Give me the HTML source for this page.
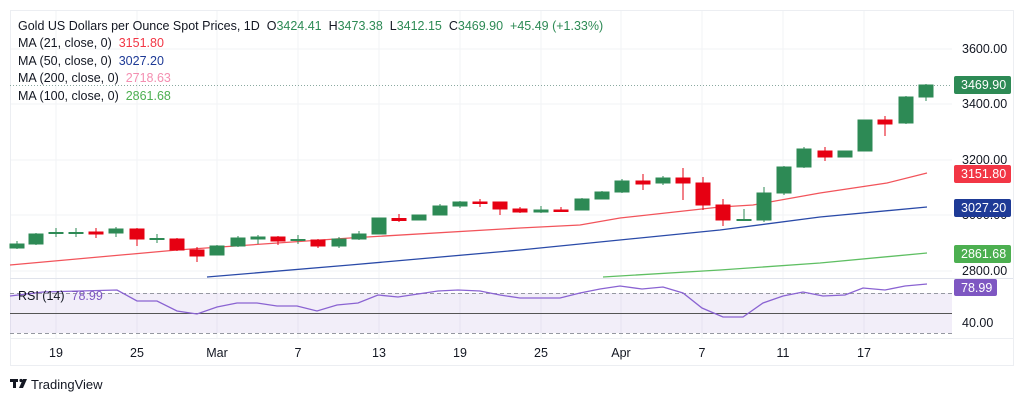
<!DOCTYPE html>
<html><head><meta charset="utf-8"><style>
html,body{margin:0;padding:0;background:#fff;}
svg{display:block;font-family:"Liberation Sans",sans-serif;}
text{white-space:pre;}
</style></head><body>
<svg width="1024" height="402" viewBox="0 0 1024 402" xmlns="http://www.w3.org/2000/svg">
<rect width="1024" height="402" fill="#fff"/>
<g stroke="#f2f3f6" stroke-width="1">
<line x1="10" y1="49" x2="952" y2="49"/><line x1="10" y1="104" x2="952" y2="104"/><line x1="10" y1="160" x2="952" y2="160"/><line x1="10" y1="215" x2="952" y2="215"/><line x1="10" y1="271" x2="952" y2="271"/>
<line x1="56" y1="10" x2="56" y2="338"/><line x1="137" y1="10" x2="137" y2="338"/><line x1="217" y1="10" x2="217" y2="338"/><line x1="298" y1="10" x2="298" y2="338"/><line x1="379" y1="10" x2="379" y2="338"/><line x1="460" y1="10" x2="460" y2="338"/><line x1="541" y1="10" x2="541" y2="338"/><line x1="621" y1="10" x2="621" y2="338"/><line x1="702" y1="10" x2="702" y2="338"/><line x1="783" y1="10" x2="783" y2="338"/><line x1="864" y1="10" x2="864" y2="338"/>
</g>
<rect x="10.5" y="10.5" width="1003" height="355" fill="none" stroke="#eceef2"/>
<line x1="10" y1="278.5" x2="1013" y2="278.5" stroke="#e0e3eb"/>
<line x1="10" y1="338.5" x2="1013" y2="338.5" stroke="#eceef2"/>
<rect x="10" y="293" width="942" height="40" fill="#7e57c2" fill-opacity="0.1"/>
<line x1="10" y1="293.5" x2="952" y2="293.5" stroke="#9598a1" stroke-dasharray="4,3"/>
<line x1="10" y1="333.5" x2="952" y2="333.5" stroke="#9598a1" stroke-dasharray="4,3"/>
<line x1="10" y1="313.5" x2="952" y2="313.5" stroke="#555" stroke-width="1"/>
<polyline fill="none" stroke="#8a63d2" stroke-width="1.3" points="10,296 43,292 117,290 137,301 157,301 177,311 197,314 217,307 237,303 257,303 277,306 297,306 317,311 337,305 358,303 378,295 398,297 418,294 438,291 458,290 480,291 500,295 520,298 560,298 580,293 600,289 620,286 642,289 663,287 683,293 702,308 723,317 743,317 763,303 783,296 803,292 823,296 845,295 863,288 885,290 905,286 927,284"/>
<line x1="10" y1="85.5" x2="952" y2="85.5" stroke="#8aa9a0" stroke-dasharray="1,2"/>
<polyline fill="none" stroke="#f2545b" stroke-width="1.3" points="10,265 177,250 350,238 520,228 580,225 620,218 720,207 753,205 820,193 887,183 927,173"/>
<polyline fill="none" stroke="#2a4aa8" stroke-width="1.3" points="207,277 350,265 520,250 720,230 820,217 927,207"/>
<polyline fill="none" stroke="#5fbf63" stroke-width="1.3" points="603,277 720,270 820,263 927,253"/>
<g stroke-width="1">
<g fill="#2d8a55" stroke="#2d8a55">
<line x1="17" y1="241" x2="17" y2="249"/><rect x="10" y="244" width="14" height="4"/>
<line x1="36" y1="233" x2="36" y2="245"/><rect x="29" y="234" width="14" height="10"/>
<line x1="56" y1="228" x2="56" y2="237"/><rect x="49" y="232.5" width="14" height="1"/>
<line x1="76" y1="228" x2="76" y2="237"/><rect x="69" y="232.5" width="14" height="1"/>
<line x1="116" y1="227" x2="116" y2="237"/><rect x="109" y="229" width="14" height="4"/>
<line x1="157" y1="234" x2="157" y2="243"/><rect x="150" y="238.5" width="14" height="1"/>
<line x1="217" y1="245" x2="217" y2="255"/><rect x="210" y="246" width="14" height="9"/>
<line x1="238" y1="236" x2="238" y2="247"/><rect x="231" y="238" width="14" height="8"/>
<line x1="258" y1="235" x2="258" y2="244"/><rect x="251" y="237" width="14" height="2"/>
<line x1="298" y1="235" x2="298" y2="244"/><rect x="291" y="239.5" width="14" height="1"/>
<line x1="339" y1="237" x2="339" y2="248"/><rect x="332" y="239" width="14" height="7"/>
<line x1="359" y1="231" x2="359" y2="240"/><rect x="352" y="234" width="14" height="5"/>
<rect x="372" y="218" width="14" height="16"/>
<rect x="412" y="215" width="14" height="5"/>
<line x1="440" y1="204" x2="440" y2="215"/><rect x="433" y="206" width="14" height="9"/>
<line x1="460" y1="201" x2="460" y2="208"/><rect x="453" y="202" width="14" height="4"/>
<line x1="541" y1="206" x2="541" y2="213"/><rect x="534" y="210" width="14" height="2"/>
<line x1="582" y1="198" x2="582" y2="210"/><rect x="575" y="199" width="14" height="11"/>
<line x1="602" y1="191" x2="602" y2="199"/><rect x="595" y="192" width="14" height="7"/>
<line x1="622" y1="179" x2="622" y2="193"/><rect x="615" y="181" width="14" height="11"/>
<line x1="663" y1="176" x2="663" y2="185"/><rect x="656" y="178" width="14" height="5"/>
<line x1="744" y1="209" x2="744" y2="221"/><rect x="737" y="219.5" width="14" height="1"/>
<line x1="764" y1="187" x2="764" y2="222"/><rect x="757" y="193" width="14" height="27"/>
<line x1="784" y1="166" x2="784" y2="195"/><rect x="777" y="167" width="14" height="26"/>
<line x1="804" y1="147" x2="804" y2="168"/><rect x="797" y="149" width="14" height="18"/>
<rect x="838" y="151" width="14" height="6"/>
<rect x="858" y="120" width="14" height="31"/>
<line x1="906" y1="96" x2="906" y2="124"/><rect x="899" y="97" width="14" height="26"/>
<line x1="926" y1="84" x2="926" y2="101"/><rect x="919" y="85" width="14" height="12"/>
</g>
<g fill="#e60012" stroke="#e60012">
<line x1="96" y1="228" x2="96" y2="238"/><rect x="89" y="232" width="14" height="2"/>
<line x1="137" y1="228" x2="137" y2="246"/><rect x="130" y="229" width="14" height="10"/>
<line x1="177" y1="238" x2="177" y2="251"/><rect x="170" y="239" width="14" height="11"/>
<line x1="197" y1="247" x2="197" y2="262"/><rect x="190" y="250" width="14" height="6"/>
<line x1="278" y1="236" x2="278" y2="245"/><rect x="271" y="237" width="14" height="4"/>
<line x1="318" y1="239" x2="318" y2="248"/><rect x="311" y="240" width="14" height="6"/>
<line x1="399" y1="214" x2="399" y2="222"/><rect x="392" y="218.5" width="14" height="2"/>
<line x1="480" y1="199" x2="480" y2="207"/><rect x="473" y="202" width="14" height="1.5"/>
<line x1="500" y1="202" x2="500" y2="215"/><rect x="493" y="202" width="14" height="7"/>
<line x1="520" y1="207" x2="520" y2="213"/><rect x="513" y="209" width="14" height="3"/>
<line x1="561" y1="207" x2="561" y2="212"/><rect x="554" y="210" width="14" height="1.5"/>
<line x1="643" y1="174" x2="643" y2="190"/><rect x="636" y="181" width="14" height="3"/>
<line x1="683" y1="168" x2="683" y2="200"/><rect x="676" y="178" width="14" height="5"/>
<line x1="703" y1="177" x2="703" y2="210"/><rect x="696" y="183" width="14" height="22"/>
<line x1="723" y1="199" x2="723" y2="226"/><rect x="716" y="205" width="14" height="15"/>
<line x1="825" y1="147" x2="825" y2="161"/><rect x="818" y="151" width="14" height="6"/>
<line x1="885" y1="116" x2="885" y2="136"/><rect x="878" y="120" width="14" height="4"/>
</g>
</g>
<g font-size="12.5" fill="#131722">
<text x="962" y="53">3600.00</text>
<text x="962" y="108">3400.00</text>
<text x="962" y="164">3200.00</text>
<text x="962" y="219">3000.00</text>
<text x="962" y="275">2800.00</text>
<text x="962" y="327">40.00</text>
</g>
<g font-size="12.5" fill="#fff">
<rect x="954" y="76" width="57" height="18" rx="2" fill="#2d8a55"/><text x="961" y="89">3469.90</text>
<rect x="954" y="165" width="57" height="18" rx="2" fill="#f23645"/><text x="961" y="178">3151.80</text>
<rect x="954" y="199" width="57" height="18" rx="2" fill="#1e3a96"/><text x="961" y="212">3027.20</text>
<rect x="954" y="245" width="57" height="18" rx="2" fill="#4caf50"/><text x="961" y="258">2861.68</text>
<rect x="954" y="279" width="43" height="17" rx="2" fill="#7e57c2"/><text x="961" y="292">78.99</text>
</g>
<g font-size="12.5" fill="#131722" text-anchor="middle">
<text x="56" y="357">19</text><text x="137" y="357">25</text><text x="217" y="357">Mar</text><text x="298" y="357">7</text><text x="379" y="357">13</text><text x="460" y="357">19</text><text x="541" y="357">25</text><text x="621" y="357">Apr</text><text x="702" y="357">7</text><text x="783" y="357">11</text><text x="864" y="357">17</text>
</g>
<g font-size="12.5" fill="#131722">
<text x="18" y="30">Gold US Dollars per Ounce Spot Prices, 1D  O<tspan fill="#2d8a55">3424.41</tspan>  H<tspan fill="#2d8a55">3473.38</tspan>  L<tspan fill="#2d8a55">3412.15</tspan>  C<tspan fill="#2d8a55">3469.90</tspan>  <tspan fill="#2d8a55">+45.49 (+1.33%)</tspan></text>
<text x="18" y="47">MA (21, close, 0)  <tspan fill="#f23645">3151.80</tspan></text>
<text x="18" y="65">MA (50, close, 0)  <tspan fill="#1e3a96">3027.20</tspan></text>
<text x="18" y="82">MA (200, close, 0)  <tspan fill="#f48fb1">2718.63</tspan></text>
<text x="18" y="100">MA (100, close, 0)  <tspan fill="#4caf50">2861.68</tspan></text>
<text x="18" y="300">RSI (14)  <tspan fill="#7e57c2">78.99</tspan></text>
</g>
<g fill="#131722">
<rect x="10" y="379" width="8" height="3"/><rect x="13" y="379" width="3" height="9"/>
<circle cx="21" cy="380.5" r="1.6"/>
<polygon points="23,379 27,379 23,388 19,388"/>
<text x="31" y="389" font-size="13">TradingView</text>
</g>
</svg>
</body></html>
